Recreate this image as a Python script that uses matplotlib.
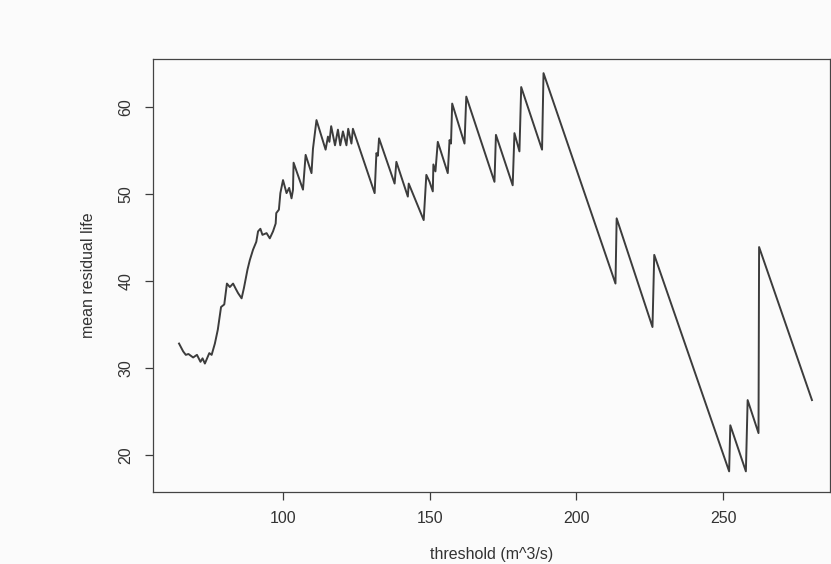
import matplotlib.pyplot as plt

# mean residual life against threshold
threshold = [64.7, 66.1, 67.0, 67.9, 69.5, 70.8, 72.0, 72.7, 73.5, 75.0, 75.8,
             76.9, 77.9, 79.0, 80.1, 81.0, 82.0, 83.1, 84.0, 84.8, 86.0, 86.8,
             88.0, 88.8, 89.9, 91.0, 91.6, 92.4, 93.1, 94.5, 95.6, 96.7, 97.6,
             97.8, 98.7, 99.2, 100.1, 101.3, 102.2, 103.0, 103.5, 103.7, 106.9,
             107.8, 109.8, 110.3, 111.5, 114.6, 115.4, 115.9, 116.5, 117.8,
             118.8, 119.6, 120.5, 121.7, 122.3, 123.4, 123.9, 131.3, 131.9,
             132.4, 132.8, 138.1, 138.7, 142.6, 142.9, 148.0, 148.9, 150.0,
             151.1, 151.3, 152.0, 152.8, 156.2, 156.8, 157.3, 157.7, 161.9,
             162.5, 172.1, 172.6, 178.3, 178.9, 180.6, 181.2, 188.3, 188.8,
             213.3, 213.7, 225.9, 226.5, 252.0, 252.4, 257.7, 258.3, 262.0,
             262.2, 280.2]
mrl = [32.8, 31.9, 31.5, 31.6, 31.2, 31.5, 30.7, 31.1, 30.5, 31.7, 31.5,
       32.8, 34.4, 37.0, 37.3, 39.7, 39.3, 39.7, 39.1, 38.6, 38.0, 39.2,
       41.3, 42.4, 43.6, 44.5, 45.7, 46.0, 45.3, 45.5, 44.9, 45.7, 46.6,
       47.8, 48.2, 50.1, 51.6, 50.1, 50.7, 49.5, 50.5, 53.6, 50.5,
       54.5, 52.4, 55.2, 58.5, 55.1, 56.6, 56.0, 57.8, 55.6,
       57.4, 55.6, 57.2, 55.6, 57.5, 55.8, 57.5, 50.1, 54.7,
       54.4, 56.4, 51.2, 53.7, 49.7, 51.2, 47.0, 52.2, 51.4,
       50.3, 53.4, 52.6, 56.0, 52.4, 56.2, 55.8, 60.4, 55.8,
       61.2, 51.4, 56.8, 51.0, 57.0, 54.9, 62.3, 55.1, 63.9,
       39.7, 47.2, 34.7, 43.0, 18.1, 23.4, 18.1, 26.3, 22.5,
       43.9, 26.3]

x_ticks = [100, 150, 200, 250]
y_ticks = [20, 30, 40, 50, 60]

plt.rcParams['font.family'] = ['Liberation Sans', 'DejaVu Sans']

fig = plt.figure(figsize=(8.31, 5.64), dpi=100, facecolor='#fbfbfb')
ax = fig.add_axes([0.184, 0.128, 0.815, 0.767])
ax.set_facecolor('#fbfbfb')

ax.plot(threshold, mrl, color='#3c3c3c', lw=1.4)

ax.set_xlim(55.8, 286.4)
ax.set_ylim(15.75, 65.5)
ax.set_xticks(x_ticks)
ax.set_yticks(y_ticks)
ax.set_yticklabels([str(v) for v in y_ticks], rotation=90, va='center')
ax.tick_params(direction='out', length=6, width=0.9, colors='#3c3c3c',
               labelcolor='#333333', labelsize=11.5, pad=8)

for s in ax.spines.values():
    s.set_color('#444444')
    s.set_linewidth(0.9)

ax.set_xlabel('threshold (m^3/s)', fontsize=11.5, color='#333333', labelpad=15)
ax.set_ylabel('mean residual life', fontsize=11.5, color='#333333', labelpad=16)

fig.savefig('out.png', dpi=100, facecolor=fig.get_facecolor())
